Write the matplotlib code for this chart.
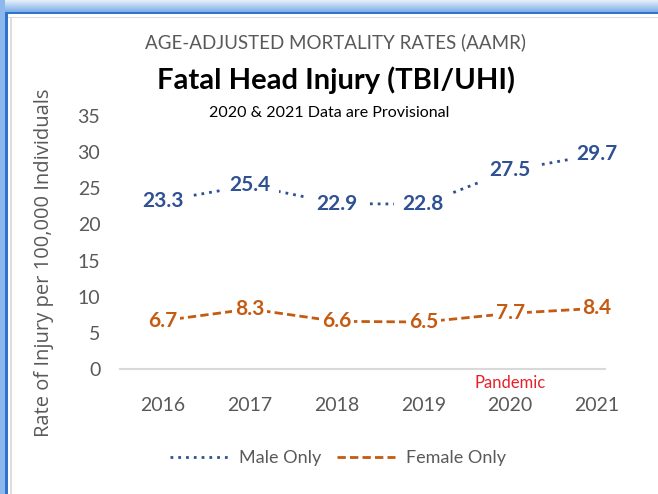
import matplotlib.pyplot as plt
from matplotlib.patches import Rectangle
from matplotlib.lines import Line2D
import numpy as np

plt.rcParams['font.family'] = ['Lato', 'DejaVu Sans']

# ── Data ──────────────────────────────────────────────────
years = ['2016', '2017', '2018', '2019', '2020', '2021']
male = [23.3, 25.4, 22.9, 22.8, 27.5, 29.7]
female = [6.7, 8.3, 6.6, 6.5, 7.7, 8.4]
yticks = [0, 5, 10, 15, 20, 25, 30, 35]

blue = '#2F5193'
orange = '#C55A11'
gray = '#595959'

fig = plt.figure(figsize=(6.58, 4.94), dpi=100)
fig.patch.set_facecolor('white')

# frame / shadow like the pasted screenshot
W, H = 658, 494
def px_rect(x0, y0, w, h, color, alpha=1.0):
    fig.patches.append(Rectangle((x0 / W, 1 - (y0 + h) / H), w / W, h / H,
                                 transform=fig.transFigure, color=color,
                                 alpha=alpha, zorder=0, lw=0))
for i in range(12):
    px_rect(0, i, W, 1, '#4A8FE0', alpha=0.15 + 0.05 * i)
px_rect(0, 12, W, 2.5, '#2E75C9')
px_rect(0, 17, W, 1.5, '#DDDDDD')
px_rect(0, 0, 5, H, '#8DB8EE')
px_rect(5, 12, 3, H, '#2E75C9')
px_rect(10, 17, 1.5, H, '#DDDDDD')

ax = fig.add_axes([0.182, 0.253, 0.737, 0.512])
x = np.arange(len(years))

ax.plot(x, male, color=blue, ls=(0, (1, 1.8)), lw=2, zorder=2)
ax.plot(x, female, color=orange, ls=(0, (3, 1.5)), lw=2, zorder=2)

for xi, v in zip(x, male):
    ax.text(xi, v, f'{v:.1f}', ha='center', va='center', fontsize=15,
            color=blue, fontweight='bold', zorder=3,
            bbox=dict(facecolor='white', edgecolor='none', pad=6))
for xi, v in zip(x, female):
    ax.text(xi, v, f'{v:.1f}', ha='center', va='center', fontsize=15,
            color=orange, fontweight='bold', zorder=3,
            bbox=dict(facecolor='white', edgecolor='none', pad=2))

ax.set_xlim(-0.5, 5.09)
ax.set_ylim(0, 35)
ax.set_yticks(yticks)
ax.set_xticks(x)
ax.set_xticklabels(years)
ax.tick_params(axis='both', length=0, labelsize=14, labelcolor=gray)
ax.tick_params(axis='x', pad=20)
ax.tick_params(axis='y', pad=14)
for s in ['top', 'right', 'left']:
    ax.spines[s].set_visible(False)
ax.spines['bottom'].set_color('#D9D9D9')
ax.spines['bottom'].set_linewidth(1.5)
ax.patch.set_alpha(0)

ax.text(4, -1.9, 'Pandemic', ha='center', va='center', fontsize=12,
        color='#E8202A')

ax.set_ylabel('Rate of Injury per 100,000 Individuals', fontsize=14.5,
              color=gray, family=['Open Sans', 'DejaVu Sans'])
ax.yaxis.set_label_coords(-0.135, 0.42)

fig.text(0.51, 0.915, 'AGE-ADJUSTED MORTALITY RATES (AAMR)', ha='center',
         va='center', fontsize=13.5, color=gray)
fig.text(0.51, 0.838, 'Fatal Head Injury (TBI/UHI)', ha='center',
         va='center', fontsize=21, color='black', fontweight='bold')
fig.text(0.50, 0.771, '2020 & 2021 Data are Provisional', ha='center',
         va='center', fontsize=11.5, color='black')

handles = [Line2D([], [], color=blue, ls=(0, (1, 1.8)), lw=2),
           Line2D([], [], color=orange, ls=(0, (3, 1.5)), lw=2)]
fig.legend(handles, ['Male Only', 'Female Only'], loc='center',
           bbox_to_anchor=(0.514, 0.072), ncol=2, frameon=False,
           fontsize=13, labelcolor=gray, handlelength=3.2,
           columnspacing=0.9, handletextpad=0.6)

fig.savefig('out.png', dpi=100, facecolor='white')
